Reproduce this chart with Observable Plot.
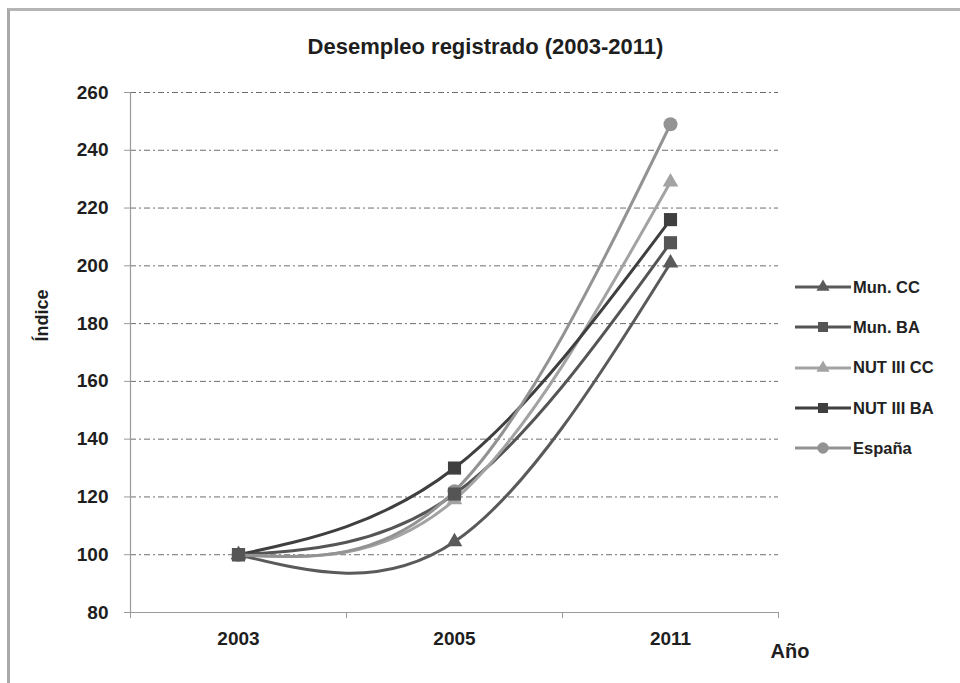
<!DOCTYPE html>
<html><head><meta charset="utf-8">
<script src="https://cdn.jsdelivr.net/npm/d3@7"></script>
<script src="https://cdn.jsdelivr.net/npm/@observablehq/plot@0.6"></script>
<style>
body{margin:0;background:#fff;}
#wrap{position:relative;width:960px;height:683px;overflow:hidden;background:#fff;font-family:"Liberation Sans",Arial,sans-serif;}
#frame{position:absolute;left:7px;top:8px;width:1000px;height:1000px;border-left:3px solid #a9a9a9;border-top:3px solid #b5b5b5;}
#chart{position:absolute;left:0;top:0;}
#legend{position:absolute;left:795px;top:267px;}
.item{display:flex;align-items:center;height:40.3px;}
.item span{font-weight:bold;font-size:16.5px;color:#222;margin-left:1px;}
</style></head><body>
<div id="wrap"><div id="frame"></div><div id="chart"></div><div id="legend"></div></div>
<script>
const years = ["2003","2005","2011"];
const seriesNames = ["Mun. CC","Mun. BA","NUT III CC","NUT III BA","España"];
const munCC = [100, 104.5, 201];
const munBA = [100, 121, 208];
const nutCC = [100, 119, 229];
const nutBA = [100, 130, 216];
const espana = [100, 122, 249];
const yTicks = [80,100,120,140,160,180,200,220,240,260];
const colors = ["#5a5a5a","#555555","#a3a3a3","#3f3f3f","#939393"];
const symbols = ["triangle","square","triangle","square","circle"];
const titleText = "Desempleo registrado (2003-2011)";
const yLabel = "Índice";
const xLabel = "Año";

const allValues = [munCC, munBA, nutCC, nutBA, espana];
const rows = [];
seriesNames.forEach((s, i) => {
  allValues[i].forEach((v, j) => rows.push({series: s, xi: j, year: years[j], value: v, sym: symbols[i]}));
});
const markerOrder = ["España","NUT III CC","Mun. CC","NUT III BA","Mun. BA"];
const dotsBy = s => rows.filter(r => r.series === s);

const textFill = "#1e1e1e";
const font = "'Liberation Sans', Arial, sans-serif";

const chart = Plot.plot({
  width: 960, height: 683,
  marginLeft: 130, marginRight: 182, marginTop: 92, marginBottom: 71,
  style: {fontFamily: font, background: "transparent", color: textFill},
  x: {type: "linear", domain: [-0.5, 2.5], axis: null},
  y: {type: "linear", domain: [80, 260], axis: null},
  color: {domain: seriesNames, range: colors},
  symbol: {domain: seriesNames, range: symbols},
  marks: [
    Plot.gridY(yTicks.filter(t => t > 80), {stroke: "#6e6e6e", strokeOpacity: 1, strokeDasharray: "6,3,2,3", strokeWidth: 1}),
    Plot.ruleX([-0.5], {stroke: "#9a9a9a", strokeWidth: 1.2}),
    Plot.ruleY([80], {stroke: "#9a9a9a", strokeWidth: 1.2}),
    Plot.axisY(yTicks, {tickSize: 6, tickPadding: 16, stroke: "#9a9a9a", fontSize: 19, fontWeight: "bold", fill: textFill, label: null}),
    Plot.axisX([-0.5, 0.5, 1.5, 2.5], {tickSize: 6, stroke: "#9a9a9a", tickFormat: () => "", label: null}),
    Plot.axisX([0, 1, 2], {tickSize: 0, tickPadding: 19, tickFormat: i => years[i], fontSize: 19, fontWeight: "bold", fill: textFill, label: null}),
    Plot.line(rows, {x: "xi", y: "value", z: "series", stroke: "series", curve: "natural", strokeWidth: 3}),
    ...markerOrder.map(s => {
      const sym = symbols[seriesNames.indexOf(s)];
      const r = sym === "circle" ? 7 : sym === "square" ? 7.4 : 5.8;
      return Plot.dot(dotsBy(s), {x: "xi", y: "value", symbol: "series", fill: "series", r, stroke: "none"});
    }),
    Plot.text([titleText], {text: d => d, frameAnchor: "top", dx: 31, dy: -46, fontSize: 22, fontWeight: "bold", fill: textFill, lineAnchor: "middle"}),
    Plot.text([yLabel], {text: d => d, frameAnchor: "left", textAnchor: "middle", dx: -88, dy: -37, rotate: -90, fontSize: 18, fontWeight: "bold", fill: textFill}),
    Plot.text([xLabel], {text: d => d, frameAnchor: "bottom-right", textAnchor: "start", dx: -8, dy: 45, fontSize: 20, fontWeight: "bold", fill: textFill})
  ]
});
document.getElementById("chart").appendChild(chart);

// Legend
const legend = d3.select("#legend");
seriesNames.forEach((s, i) => {
  const item = legend.append("div").attr("class", "item");
  const svg = item.append("svg").attr("width", 57).attr("height", 20);
  svg.append("line").attr("x1", 0).attr("x2", 56).attr("y1", 10).attr("y2", 10)
    .attr("stroke", colors[i]).attr("stroke-width", 3);
  const symType = symbols[i] === "circle" ? d3.symbolCircle : symbols[i] === "square" ? d3.symbolSquare : d3.symbolTriangle;
  const size = symbols[i] === "triangle" ? 75 : 100;
  svg.append("path").attr("d", d3.symbol(symType, size)()).attr("transform", "translate(28,10)").attr("fill", colors[i]);
  item.append("span").text(s);
});
</script>
</body></html>
